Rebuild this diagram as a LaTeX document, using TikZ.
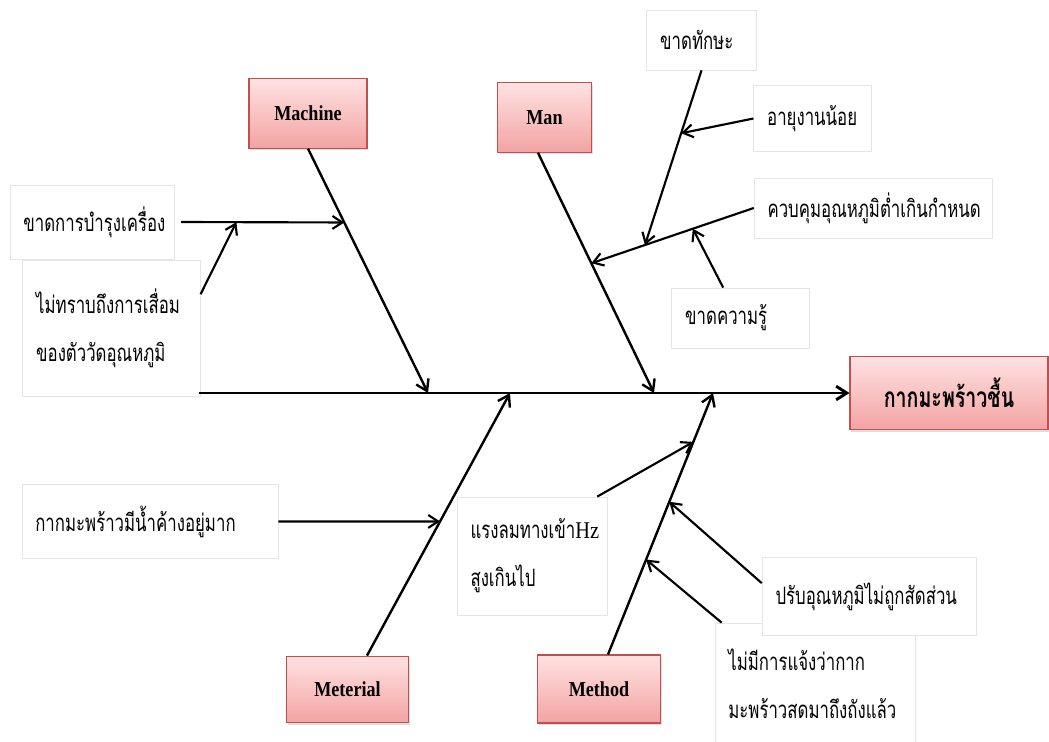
\documentclass[tikz,border=0pt]{standalone}
\usepackage{fontspec}
\setmainfont{Liberation Serif}
\newfontfamily\thaifont[Script=Thai,FakeStretch=0.7]{Loma}
\newfontfamily\catfont[FakeStretch=0.85]{Liberation Serif}
\usetikzlibrary{arrows.meta, calc, shadows}

\definecolor{catline}{HTML}{C0504D}
\definecolor{cattop}{HTML}{FFE2E2}
\definecolor{catbot}{HTML}{F3A3A3}

\begin{document}
\begin{tikzpicture}[
  x=0.75pt, y=-0.75pt,
  catbox/.style={draw=catline, line width=0.8pt, top color=cattop,
                 bottom color=catbot, inner sep=2pt,
                 font=\catfont\bfseries\fontsize{16}{19}\selectfont,
                 drop shadow={shadow xshift=1pt, shadow yshift=-1.5pt,
                              opacity=0.25}},
  cause/.style={draw=black!10, fill=white, line width=0.6pt, align=left,
                inner xsep=10pt,
                font=\thaifont\fontsize{18}{36}\selectfont},
  spine/.style={line width=2.2pt, -{Straight Barb[length=2.8mm,width=3.6mm]}},
  bone/.style={line width=1.8pt, -{Straight Barb[length=2.8mm,width=3.6mm]}},
  arr/.style={line width=1.6pt, -{Straight Barb[length=2.6mm,width=3.4mm]}}
]
\useasboundingbox (0,0) rectangle (1049,742);

\node[catbox, minimum width=148.5pt, minimum height=55pt,
      font=\thaifont\bfseries\fontsize{21}{24}\selectfont]
  (effect) at (949,393) {กากมะพร้าวชื้น};
\node[catbox, minimum width=88.5pt, minimum height=52pt]
  (machine) at (308,113.5) {Machine};
\node[catbox, minimum width=71pt, minimum height=52pt]
  (man) at (544.5,117.5) {Man};
\node[catbox, minimum width=91pt, minimum height=50pt]
  (meterial) at (347.5,689.5) {Meterial};
\node[catbox, minimum width=92pt, minimum height=51pt]
  (method) at (599,689) {Method};

\node[cause, text width=103pt, minimum height=55.5pt]
  (c1) at (92,222) {ขาดการบำรุงเครื่อง};
\node[cause, text width=113pt, minimum height=102pt]
  (c2) at (111.5,328) {ไม่ทราบถึงการเสื่อม\\ของตัววัดอุณหภูมิ};
\node[cause, text width=62pt, minimum height=45pt]
  (c3) at (701.5,40) {ขาดทักษะ};
\node[cause, text width=68pt, minimum height=50pt]
  (c4) at (812.5,118.5) {อายุงานน้อย};
\node[cause, text width=159pt, minimum height=45pt]
  (c5) at (873.5,208) {ควบคุมอุณหภูมิต่ำเกินกำหนด};
\node[cause, text width=83pt, minimum height=45pt]
  (c6) at (740.5,318) {ขาดความรู้};
\node[cause, text width=172pt, minimum height=55pt]
  (c7) at (150,521.5) {กากมะพร้าวมีน้ำค้างอยู่มาก};
\node[cause, text width=93pt, minimum height=88.5pt]
  (c8) at (532.5,556) {แรงลมทางเข้า{\catfont Hz}\\สูงเกินไป};
\node[cause, text width=130pt, minimum height=91.5pt]
  (c10) at (815,684) {ไม่มีการแจ้งว่ากาก\\มะพร้าวสดมาถึงถังแล้ว};
\node[cause, text width=141pt, minimum height=58pt]
  (c9) at (869.5,596.5) {ปรับอุณหภูมิไม่ถูกสัดส่วน};

\coordinate (tail) at (199,393);
\coordinate (sMach) at (428,393);
\coordinate (sMan) at (654,393);
\coordinate (sMat) at (510,393);
\coordinate (sMet) at (713,393);
\coordinate (bMan) at ([xshift=-4.9pt]man.south);
\coordinate (bMat) at ([xshift=14.6pt]meterial.north);
\coordinate (bMet) at ([xshift=6.75pt]method.north);

\draw[spine] (tail) -- (effect);
\draw[bone] (machine.south) -- (sMach);
\draw[bone] (bMan) -- (sMan);
\draw[bone] (bMat) -- (sMat);
\draw[bone] (bMet) -- (sMet);

\coordinate (c1e) at ([xshift=5pt]c1.east);
\coordinate (hMach) at ($(machine.south)!0.302!(sMach)$);
\coordinate (hMach2) at ($(c1e)!0.339!(hMach)$);
\draw[arr] (c1e) -- (hMach);
\draw[arr] ([yshift=-26pt]c2.north east) -- (hMach2);

\coordinate (hMan) at ($(bMan)!0.46!(sMan)$);
\coordinate (hMan2) at ($(c5.west)!0.67!(hMan)$);
\coordinate (hMan3) at ($(c5.west)!0.375!(hMan)$);
\coordinate (hMan4) at ($(c3.south)!0.36!(hMan2)$);
\draw[arr] (c5.west) -- (hMan);
\draw[arr] (c3.south) -- (hMan2);
\draw[arr] (c4.west) -- (hMan4);
\draw[arr] ([xshift=-13pt]c6.north) -- (hMan3);

\coordinate (hMat) at ($(bMat)!0.511!(sMat)$);
\draw[arr] (c7.east) -- (hMat);

\coordinate (hMet1) at ($(bMet)!0.813!(sMet)$);
\coordinate (hMet2) at ($(bMet)!0.584!(sMet)$);
\coordinate (hMet3) at ($(bMet)!0.363!(sMet)$);
\draw[arr] ([xshift=-8.25pt]c8.north east) -- (hMet1);
\draw[arr] ([yshift=10pt]c9.west) -- (hMet2);
\draw[arr] ([xshift=5.25pt]c10.north west) -- (hMet3);
\end{tikzpicture}
\end{document}
